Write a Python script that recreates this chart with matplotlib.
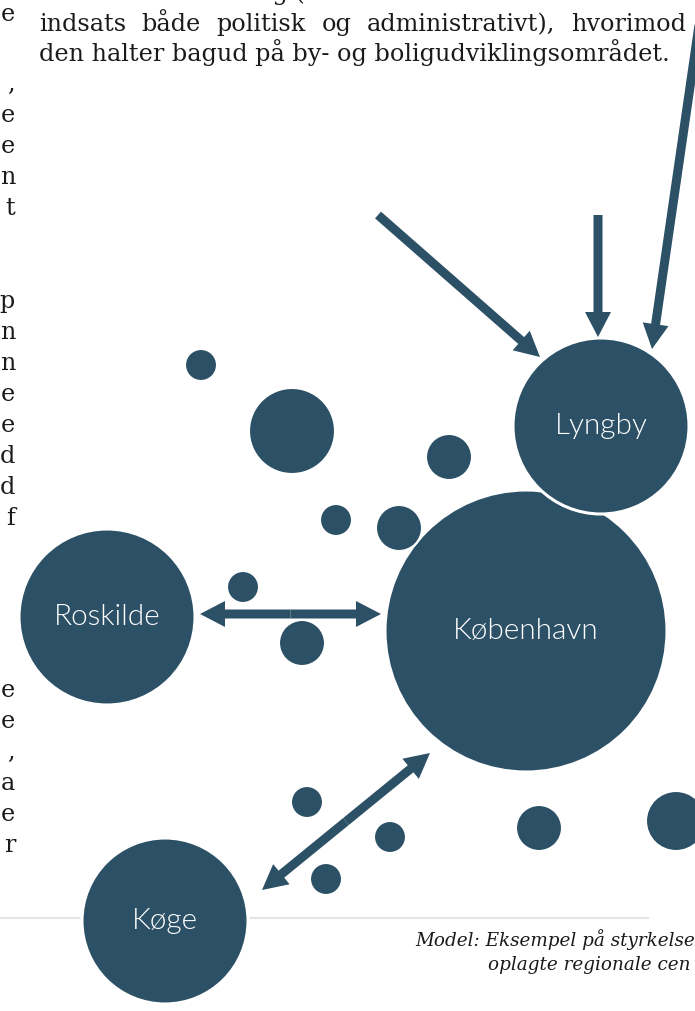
import numpy as np
import matplotlib
matplotlib.use('Agg')
import matplotlib.pyplot as plt
from matplotlib import font_manager as fm
from matplotlib.patches import Circle, FancyArrow

W, H = 695, 1011
NAVY = '#2c5066'

# ---------------------------------------------------------------------
# Data (pixel coordinates of the page, y measured from the top)
# ---------------------------------------------------------------------
city_names = ['København', 'Lyngby', 'Roskilde', 'Køge']
city_x = [526, 601, 107, 165]
city_y = [631, 426, 617, 921]
city_r = [141, 88, 88, 83]

dot_x = [201, 292, 449, 336, 399, 243, 302, 307, 390, 326, 539, 676]
dot_y = [365, 431, 457, 520, 528, 587, 643, 802, 837, 879, 828, 821]
dot_r = [16, 43, 23, 16, 23, 16, 23, 16, 16, 16, 23, 30]

# one-way arrows: start -> tip
arrow_from = [(378, 215), (598, 215), (699, 25)]
arrow_to = [(540, 357), (598, 337), (652, 349)]

# two-way arrows
link_a = [(200, 614), (262, 890)]
link_b = [(381, 614), (430, 753)]

body_lines = ['indsats både politisk og administrativt), hvorimod',
              'den halter bagud på by- og boligudviklingsområdet.']
top_cut = 'erhvervsudvikling ('
left_first = 'e'
left_letters_top = [',', 'e', 'e', 'n', 't', '', '',
                    'p', 'n', 'n', 'e', 'e', 'd', 'd', 'f']
left_letters_low = ['e', 'e', ',', 'a', 'e', 'r']
caption = ['Model: Eksempel på styrkelse', 'oplagte regionale cen']

# ---------------------------------------------------------------------
fig = plt.figure(figsize=(W / 100, H / 100), dpi=100)
ax = fig.add_axes([0, 0, 1, 1])
ax.set_xlim(0, W)
ax.set_ylim(H, 0)
ax.axis('off')
renderer = fig.canvas.get_renderer()

SERIF = 'DejaVu Serif'
INK = '#1a1a1a'

# a light geometric-ish sans for the town names, if one is installed
label_font = fm.FontProperties(family='Lato')
for fam in ['Lato', 'Open Sans', 'Roboto', 'Inter', 'Noto Sans']:
    hits = [f for f in fm.fontManager.ttflist
            if f.name == fam and f.weight == 300 and f.style == 'normal']
    if hits:
        label_font = fm.FontProperties(fname=hits[0].fname)
        break


def text_width(s, **kw):
    t = ax.text(0, 0, s, **kw)
    w = t.get_window_extent(renderer).width
    t.remove()
    return w


# body text size fitted so line 2 spans the column
fs = 15 * (668 - 39) / text_width(body_lines[1], family=SERIF, size=15)

# justified line 1
words = body_lines[0].split()
ww = [text_width(w_, family=SERIF, size=fs) for w_ in words]
gap = (686 - 39 - sum(ww)) / (len(words) - 1)
x = 39
for w_, wd in zip(words, ww):
    ax.text(x, 31, w_, family=SERIF, size=fs, color=INK, va='baseline')
    x += wd + gap
ax.text(39, 61, body_lines[1], family=SERIF, size=fs, color=INK, va='baseline')
ax.text(305, 0, top_cut, family=SERIF, size=fs, color=INK,
        va='baseline', ha='right')

# cut-off right edge of the previous column
ax.text(15, 21, left_first, family=SERIF, size=fs, color=INK,
        va='baseline', ha='right')
for i, ch in enumerate(left_letters_top):
    ax.text(15, 91 + 31 * i, ch, family=SERIF, size=fs, color=INK,
            va='baseline', ha='right')
for i, ch in enumerate(left_letters_low):
    ax.text(15, 697 + 31 * i, ch, family=SERIF, size=fs, color=INK,
            va='baseline', ha='right')

# separator rule
ax.plot([0, 648], [918, 918], color='#e4e4e4', lw=1.5, zorder=1)

# caption (cut by the right page edge, as in the source)
cfs = 14 * 281 / text_width(caption[0], family=SERIF, style='italic', size=14)
ax.text(415, 946, caption[0], family=SERIF, style='italic', size=cfs,
        color=INK, va='baseline')
ax.text(488, 970, caption[1], family=SERIF, style='italic', size=cfs,
        color=INK, va='baseline')

# bubbles
for x_, y_, r_ in zip(dot_x, dot_y, dot_r):
    ax.add_patch(Circle((x_, y_), r_, facecolor=NAVY, edgecolor='white',
                        lw=1.5, zorder=3))

label_font.set_size(16)
lfs = 16 * 146 / text_width(city_names[0], fontproperties=label_font)
label_font.set_size(lfs)
for i, (name, x_, y_, r_) in enumerate(zip(city_names, city_x, city_y, city_r)):
    ax.add_patch(Circle((x_, y_), r_, facecolor=NAVY, edgecolor='white',
                        lw=2.2, zorder=2 + (i == 1) * 2))
    ax.text(x_, y_, name, color='white', fontproperties=label_font,
            ha='center', va='center', zorder=6)

# arrows
akw = dict(width=9, head_width=26, head_length=25, length_includes_head=True,
           color=NAVY, lw=0, zorder=5)
for (x0, y0), (x1, y1) in zip(arrow_from, arrow_to):
    ax.add_patch(FancyArrow(x0, y0, x1 - x0, y1 - y0, **akw))
for (x0, y0), (x1, y1) in zip(link_a, link_b):
    mx, my = (x0 + x1) / 2, (y0 + y1) / 2
    ax.add_patch(FancyArrow(mx, my, x0 - mx, y0 - my, **akw))
    ax.add_patch(FancyArrow(mx, my, x1 - mx, y1 - my, **akw))

fig.savefig('out.png', dpi=100, facecolor='white')
